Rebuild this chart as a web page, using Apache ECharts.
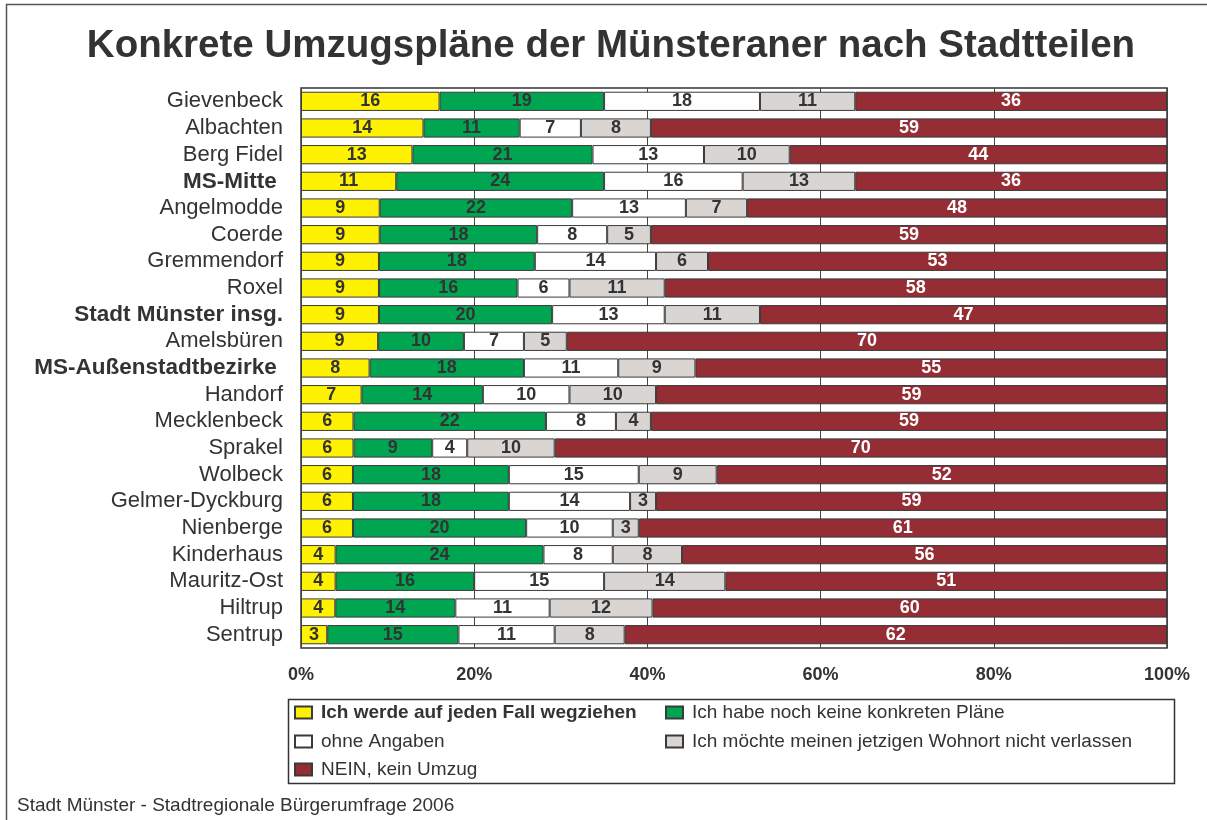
<!DOCTYPE html>
<html>
<head>
<meta charset="utf-8">
<script src="https://cdn.jsdelivr.net/npm/echarts@6/dist/echarts.min.js"></script>
<style>
  html, body { margin: 0; padding: 0; background: #fff; }
  #chart { width: 1207px; height: 820px; }
</style>
</head>
<body>
<div id="chart"></div>
<script>
var districts = ['Gievenbeck', 'Albachten', 'Berg Fidel', 'MS-Mitte', 'Angelmodde', 'Coerde',
  'Gremmendorf', 'Roxel', 'Stadt Münster insg.', 'Amelsbüren', 'MS-Außenstadtbezirke', 'Handorf',
  'Mecklenbeck', 'Sprakel', 'Wolbeck', 'Gelmer-Dyckburg', 'Nienberge', 'Kinderhaus',
  'Mauritz-Ost', 'Hiltrup', 'Sentrup'];
var boldDistricts = ['MS-Mitte', 'Stadt Münster insg.', 'MS-Außenstadtbezirke'];

var seriesNames = ['Ich werde auf jeden Fall wegziehen', 'Ich habe noch keine konkreten Pläne',
  'ohne Angaben', 'Ich möchte meinen jetzigen Wohnort nicht verlassen', 'NEIN, kein Umzug'];

var wegziehen   = [16, 14, 13, 11, 9, 9, 9, 9, 9, 9, 8, 7, 6, 6, 6, 6, 6, 4, 4, 4, 3];
var keinePlaene = [19, 11, 21, 24, 22, 18, 18, 16, 20, 10, 18, 14, 22, 9, 18, 18, 20, 24, 16, 14, 15];
var ohneAngaben = [18, 7, 13, 16, 13, 8, 14, 6, 13, 7, 11, 10, 8, 4, 15, 14, 10, 8, 15, 11, 11];
var bleiben     = [11, 8, 10, 13, 7, 5, 6, 11, 11, 5, 9, 10, 4, 10, 9, 3, 3, 8, 14, 12, 8];
var keinUmzug   = [36, 59, 44, 36, 48, 59, 53, 58, 47, 70, 55, 59, 59, 70, 52, 59, 61, 56, 51, 60, 62];

var xTicks = [0, 20, 40, 60, 80, 100];

var raw = [wegziehen, keinePlaene, ohneAngaben, bleiben, keinUmzug];
var colors = ['#fff200', '#00a551', '#ffffff', '#d9d5d2', '#952d34'];
var labelColors = ['#333', '#333', '#333', '#333', '#fff'];

var FONT = 'Liberation Sans, Arial, sans-serif';

// bars fill 100% of the row, labels keep the printed (rounded) values
var sums = districts.map(function (d, i) {
  return raw.reduce(function (s, arr) { return s + arr[i]; }, 0);
});

var series = raw.map(function (arr, k) {
  return {
    name: seriesNames[k],
    type: 'bar',
    stack: 'total',
    barCategoryGap: '28%',
    data: arr.map(function (v, i) { return { value: v / sums[i] * 100, raw: v }; }),
    itemStyle: { color: colors[k], borderColor: '#3a3a3a', borderWidth: 1 },
    label: {
      show: true,
      position: 'inside',
      color: labelColors[k],
      fontFamily: FONT,
      fontWeight: 'bold',
      fontSize: 18,
      formatter: function (p) { return p.data.raw; }
    },
    emphasis: { disabled: true }
  };
});

var legendPos = [
  { left: 294, top: 714 },
  { left: 665, top: 714 },
  { left: 294, top: 743 },
  { left: 665, top: 743 },
  { left: 294, top: 771 }
];
var legends = seriesNames.map(function (n, k) {
  return {
    data: [{ name: n, icon: 'rect' }],
    left: legendPos[k].left,
    top: legendPos[k].top - 11,
    padding: 0,
    itemWidth: 17,
    itemHeight: 12,
    selectedMode: false,
    textStyle: {
      fontFamily: FONT,
      fontSize: 19,
      fontWeight: k === 0 ? 'bold' : 'normal',
      color: '#333',
      padding: [0, 0, 0, 4]
    }
  };
});

var chart = echarts.init(document.getElementById('chart'));
chart.setOption({
  animation: false,
  backgroundColor: '#fff',
  title: {
    text: 'Konkrete Umzugspläne der Münsteraner nach Stadtteilen',
    left: 606,
    textAlign: 'center',
    top: 22,
    textStyle: { fontFamily: FONT, fontSize: 38.5, fontWeight: 'bold', color: '#333' }
  },
  legend: legends,
  grid: {
    left: 301, right: 40, top: 88, bottom: 172,
    show: true, borderColor: '#333', borderWidth: 1.5, backgroundColor: 'transparent'
  },
  xAxis: {
    type: 'value',
    min: xTicks[0],
    max: xTicks[xTicks.length - 1],
    interval: 20,
    axisLine: { show: false },
    axisTick: { show: false },
    splitLine: { show: true, lineStyle: { color: '#444', width: 1 } },
    axisLabel: {
      formatter: '{value}%',
      fontFamily: FONT, fontSize: 18, fontWeight: 'bold', color: '#333', margin: 18
    }
  },
  yAxis: {
    type: 'category',
    inverse: true,
    data: districts,
    axisLine: { show: false },
    axisTick: { show: false },
    axisLabel: {
      interval: 0,
      fontFamily: FONT, fontSize: 22, color: '#333', margin: 18,
      formatter: function (v) {
        if (boldDistricts.indexOf(v) < 0) return v;
        return v === 'Stadt Münster insg.' ? '{b|' + v + '}' : '{b|' + v + ' }';
      },
      rich: { b: { fontFamily: FONT, fontSize: 22.5, fontWeight: 'bold', color: '#333' } }
    }
  },
  series: series,
  graphic: [
    {
      type: 'rect',
      shape: { x: 6.5, y: 4.5, width: 1300, height: 1000 },
      style: { fill: 'none', stroke: '#555', lineWidth: 1.5 },
      silent: true
    },
    {
      type: 'rect',
      shape: { x: 288.5, y: 699.5, width: 886, height: 84 },
      style: { fill: 'none', stroke: '#333', lineWidth: 1.5 },
      silent: true,
      z: -1
    },
    {
      type: 'text',
      left: 17,
      top: 796,
      style: {
        text: 'Stadt Münster - Stadtregionale Bürgerumfrage 2006',
        font: '19px ' + FONT,
        fill: '#333'
      },
      silent: true
    }
  ]
});
</script>
</body>
</html>
